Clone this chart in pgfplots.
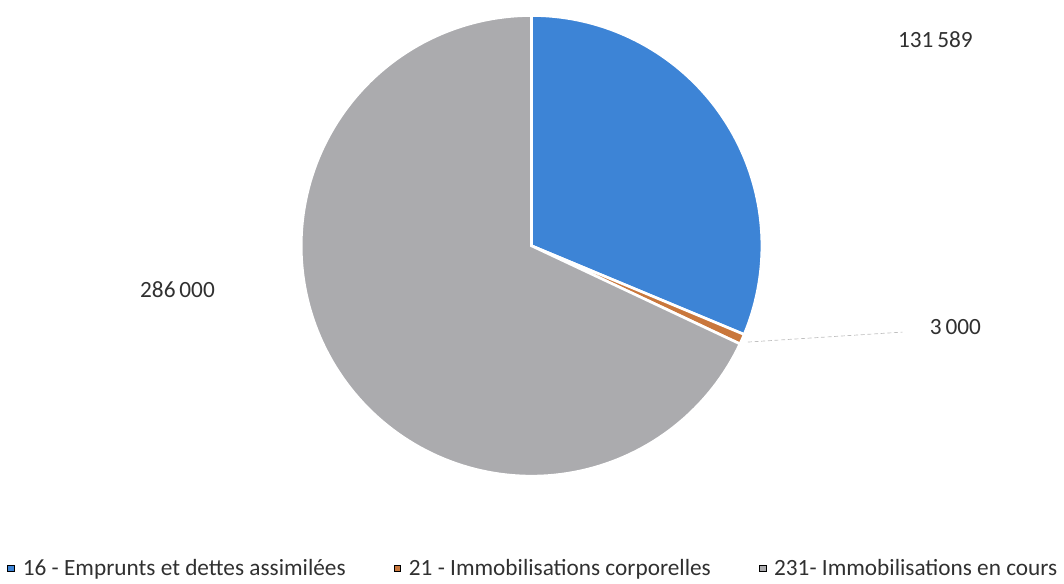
\documentclass[border=0pt]{standalone}
\usepackage{fontspec}
\setmainfont{Carlito}
\usepackage{pgfplots}
\usepackage{pgfplotstable}
\pgfplotsset{compat=1.18}

\definecolor{cblue}{HTML}{3D84D6}
\definecolor{corange}{HTML}{C9773C}
\definecolor{cgray}{HTML}{ABABAE}
\definecolor{ctext}{HTML}{303030}

\pgfplotstableread{
code value
16 131589
21 3000
231 286000
}\piedata

\begin{document}
\begin{tikzpicture}
\pgfplotstablegetelem{0}{value}\of\piedata \let\va\pgfplotsretval
\pgfplotstablegetelem{1}{value}\of\piedata \let\vb\pgfplotsretval
\pgfplotstablegetelem{2}{value}\of\piedata \let\vc\pgfplotsretval
% slice boundaries, clockwise from 12 o'clock
\edef\aA{\fpeval{90}}
\edef\aB{\fpeval{90-360*\va/(\va+\vb+\vc)}}
\edef\aC{\fpeval{90-360*(\va+\vb)/(\va+\vb+\vc)}}
\edef\aD{\fpeval{90-360}}
\def\cx{533}\def\cy{338.5}\def\rr{231}
\begin{axis}[
    width=798pt, height=438.75pt, scale only axis,
    xmin=0, xmax=1064, ymin=0, ymax=585,
    hide axis, clip=false,
    font=\fontsize{17.5}{20}\selectfont,
    legend columns=3,
    legend style={draw=none, fill=none, at={(0.503,0.026)}, anchor=center,
        font=\fontsize{17.5}{20}\selectfont, text=ctext,
        /tikz/every odd column/.append style={column sep=4pt},
        /tikz/every even column/.append style={column sep=34pt}},
    legend image code/.code={\fill[#1] (0pt,-2.6pt) rectangle (5.2pt,2.6pt);},
]
\path (0,0) rectangle (1064,585);
\fill[cblue, draw=white, line width=2pt] (\cx,\cy) -- plot[domain=\aB:\aA, samples=80] ({\cx+\rr*cos(\x)},{\cy+\rr*sin(\x)}) -- cycle;
\fill[corange, draw=white, line width=2pt] (\cx,\cy) -- plot[domain=\aC:\aB, samples=10] ({\cx+\rr*cos(\x)},{\cy+\rr*sin(\x)}) -- cycle;
\fill[cgray, draw=white, line width=2pt] (\cx,\cy) -- plot[domain=\aD:\aC, samples=150] ({\cx+\rr*cos(\x)},{\cy+\rr*sin(\x)}) -- cycle;
\draw[gray!50, densely dashed, line width=0.5pt] (750,242) -- (905,252);
\node[text=ctext] at (938,545) {131\,589};
\node[text=ctext] at (958,257) {3\,000};
\node[text=ctext] at (178,295) {286\,000};
\addlegendimage{fill=cblue}
\addlegendimage{fill=corange}
\addlegendimage{fill=cgray}
\legend{16 - Emprunts et dettes assimilées, 21 - Immobilisations corporelles, 231- Immobilisations en cours}
\end{axis}
\end{tikzpicture}
\end{document}
